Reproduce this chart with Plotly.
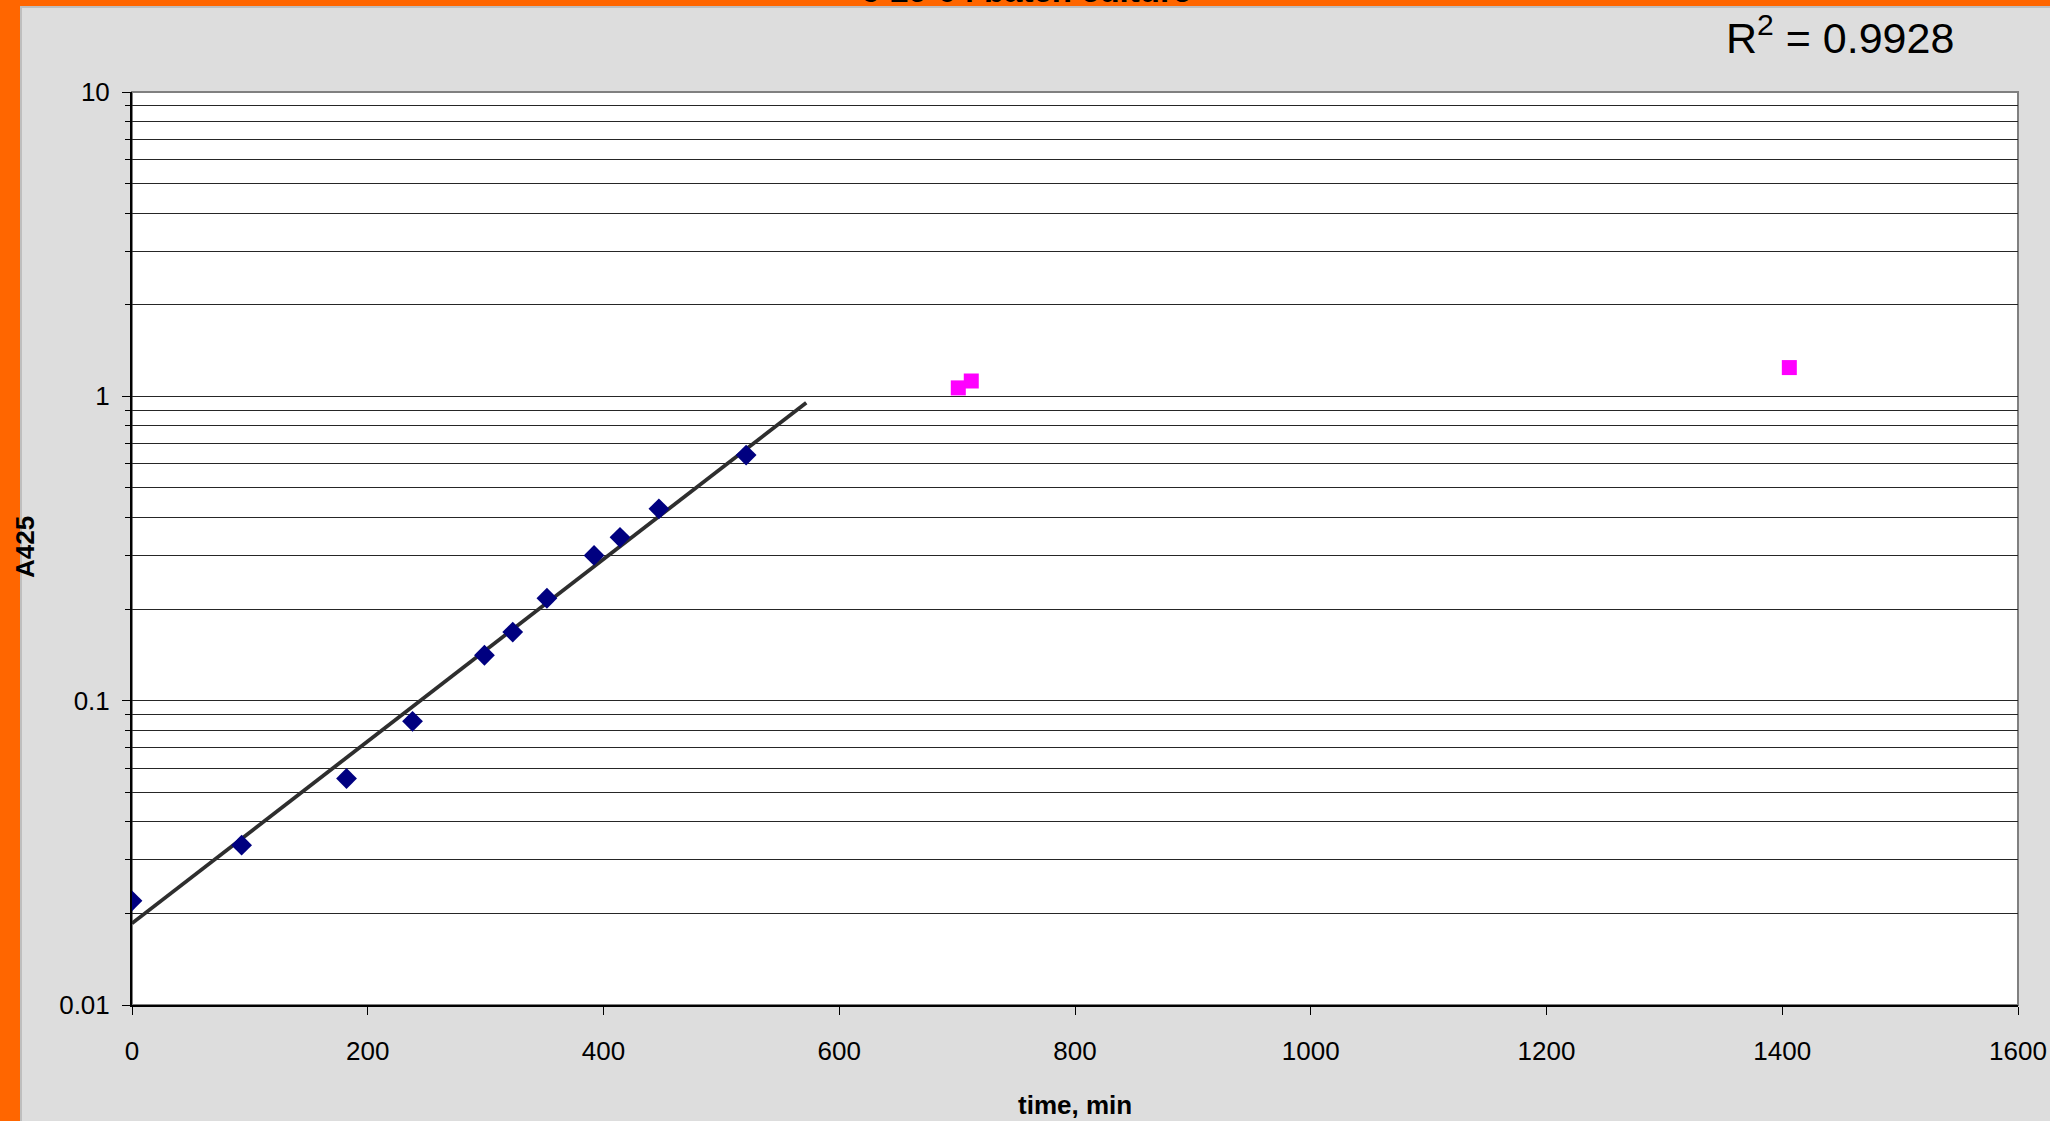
import numpy as np
import plotly.graph_objects as go

# ---------------- data ----------------
time_growth = [0, 93, 182, 238, 299, 323, 352, 392, 414, 447, 521]
a425_growth = [0.022, 0.0335, 0.0555, 0.0855, 0.141, 0.168, 0.217, 0.300, 0.344, 0.427, 0.641]

time_late = [701, 712, 1406]
a425_late = [1.066, 1.123, 1.243]

x_ticks = [0, 200, 400, 600, 800, 1000, 1200, 1400, 1600]
y_major = [0.01, 0.1, 1, 10]
y_major_text = ["0.01", "0.1", "1", "10"]
y_minor = [m * d for d in (0.01, 0.1, 1) for m in range(2, 10)]

trend_forward = 51          # Excel trendline forecast period (min)
r2_text = "R<sup>2</sup> = 0.9928"
title_text = "6-29-04 batch culture"

# exponential trendline (least squares on ln y)
b, a = np.polyfit(np.array(time_growth, float), np.log(a425_growth), 1)
trend_x = np.linspace(0, max(time_growth) + trend_forward, 200)
trend_y = np.exp(a + b * trend_x)

# ---------------- layout geometry (pixels) ----------------
W, H = 2050, 1121
L, R, T, B = 132, 2018, 92, 1005
pw, ph = R - L, B - T


def px(X):
    return (X - L) / pw


def py(Y):
    return (B - Y) / ph


FONT = "Liberation Sans, Arial, sans-serif"

fig = go.Figure()

fig.add_trace(go.Scatter(
    x=trend_x, y=trend_y, mode="lines",
    line=dict(color="#2e2e2e", width=3.8), hoverinfo="skip", showlegend=False))

fig.add_trace(go.Scatter(
    x=time_growth, y=a425_growth, mode="markers",
    marker=dict(symbol="diamond", size=16, color="#000080", line=dict(width=0)),
    showlegend=False))
fig.add_trace(go.Scatter(
    x=time_late, y=a425_late, mode="markers",
    marker=dict(symbol="square", size=15, color="#FF00FF", line=dict(width=0)),
    showlegend=False))

grid_col = "#262626"

fig.update_xaxes(
    range=[0, 1600], tickmode="array", tickvals=x_ticks,
    ticks="outside", ticklen=8, tickwidth=1, tickcolor="#000",
    showline=True, linecolor="#000", linewidth=2,
    showgrid=False, zeroline=False, automargin=False,
    tickfont=dict(family=FONT, size=26, color="#000"),
    ticklabelstandoff=14,
)
fig.update_yaxes(
    type="log", range=[-2, 1], tickmode="array",
    tickvals=y_major, ticktext=y_major_text,
    ticks="outside", ticklen=8, tickwidth=1, tickcolor="#000",
    showline=True, linecolor="#000", linewidth=2,
    showgrid=True, gridcolor=grid_col, gridwidth=1,
    zeroline=False, automargin=False,
    tickfont=dict(family=FONT, size=26, color="#000"),
    ticklabelstandoff=7,
    minor=dict(tickmode="array", tickvals=y_minor, ticks="outside",
               ticklen=5, tickcolor="#000", showgrid=True,
               gridcolor=grid_col, gridwidth=1),
)

shapes = [
    # plot area border (gray, top & right)
    dict(type="rect", xref="paper", yref="paper", x0=0, x1=1, y0=0, y1=1,
         line=dict(color="#808080", width=2), layer="below"),
    # orange chart border (left and top)
    dict(type="rect", xref="paper", yref="paper",
         x0=px(0), x1=px(20), y0=py(H), y1=py(0),
         fillcolor="#FF6600", line=dict(width=0), layer="above"),
    dict(type="rect", xref="paper", yref="paper",
         x0=px(0), x1=px(W), y0=py(6), y1=py(0),
         fillcolor="#FF6600", line=dict(width=0), layer="above"),
    dict(type="line", xref="paper", yref="paper",
         x0=px(21), x1=px(21), y0=py(H), y1=py(6.5),
         line=dict(color="#BEBEBE", width=2), layer="above"),
    dict(type="line", xref="paper", yref="paper",
         x0=px(20), x1=px(W), y0=py(7), y1=py(7),
         line=dict(color="#BEBEBE", width=2), layer="above"),
]

annotations = [
    dict(text=f"<b>{title_text}</b>", xref="paper", yref="paper",
         x=px(1026), y=py(11), xanchor="center", yanchor="bottom",
         showarrow=False, font=dict(family=FONT, size=33, color="#000")),
    dict(text=r2_text, xref="paper", yref="paper",
         x=px(1840), y=py(35), xanchor="center", yanchor="middle",
         showarrow=False, font=dict(family=FONT, size=43, color="#000")),
    dict(text="<b>A425</b>", xref="paper", yref="paper",
         x=px(25), y=py(547), xanchor="center", yanchor="middle",
         textangle=-90, showarrow=False,
         font=dict(family=FONT, size=26, color="#000")),
    dict(text="<b>time, min</b>", xref="paper", yref="paper",
         x=px(1075), y=py(1105), xanchor="center", yanchor="middle",
         showarrow=False, font=dict(family=FONT, size=26, color="#000")),
]

fig.update_layout(
    width=W, height=H,
    margin=dict(l=L, r=W - R, t=T, b=H - B, pad=0, autoexpand=False),
    paper_bgcolor="#DDDDDD", plot_bgcolor="#FFFFFF",
    shapes=shapes, annotations=annotations, showlegend=False,
    font=dict(family=FONT),
)

fig.write_html(
    "out.html",
    config={"displayModeBar": False},
    post_script="document.body.style.margin='0';document.body.style.overflow='hidden';",
)
